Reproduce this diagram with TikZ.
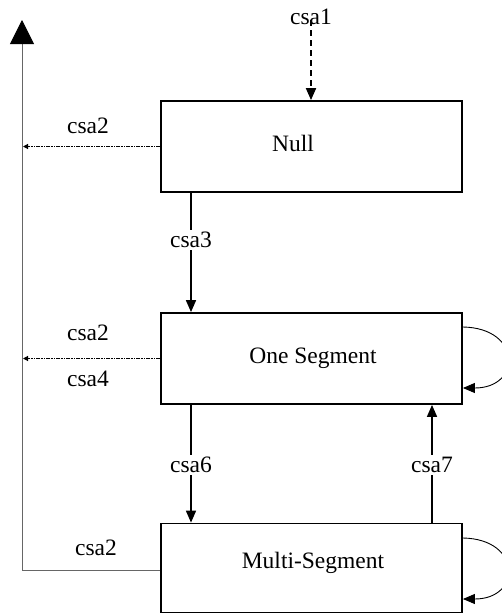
\documentclass[tikz,border=0pt]{standalone}
\usepackage{fontspec}
\setmainfont{Liberation Serif}
\usetikzlibrary{arrows.meta}
\begin{document}
\begin{tikzpicture}[x=1pt,y=-1pt,
  every node/.style={font=\fontsize{23.5}{28}\selectfont},
  statebox/.style={draw,line width=1.8pt,minimum width=301pt,inner sep=0pt,fill=none},
  tri/.style={-{Triangle[width=10pt,length=12pt]}},
  flow/.style={tri,line width=1.6pt},
  exitflow/.style={-{Triangle[width=5pt,length=5pt]},line width=1.1pt,
    dash pattern=on 4pt off 1pt on 1.5pt off 1pt on 1.5pt off 1pt},
  lbl/.style={inner sep=1pt},
  cut/.style={fill=white,inner sep=2pt}]
\useasboundingbox (0,0) rectangle (502,613);

% states
\node[statebox,minimum height=91pt] (null)  at (311.5,146.5) {};
\node[statebox,minimum height=91pt] (one)   at (311.5,358.5) {};
\node[statebox,minimum height=89pt] (multi) at (311.5,568) {};
\node (tnull)  at (293,143) {Null};
\node (tone)   at (313,358) {One Segment};
\node (tmulti) at (313,563) {Multi-Segment};

% guide coordinates
\coordinate (c1) at (311,20);
\coordinate (c3) at (191,0);
\coordinate (c7) at (432,0);
\coordinate (ex) at (23,0);
\coordinate (lb) at (22,570);
\coordinate (lt) at (22,20);

% creation
\draw[flow,line width=1.8pt,dash pattern=on 6pt off 4pt] (c1) -- (null.north -| c1);
\node[lbl] (l1) at (311,17) {csa1};

% return line on the left
\draw[gray!80!black,line width=1pt,-{Triangle[width=24pt,length=24pt,color=black]}]
  (lb -| multi.west) -- (lb) -- (lt);
\node[lbl] (l2c) at (96,548) {csa2};

% exits to the return line
\draw[exitflow] (null.west) -- (null.west -| ex);
\node[lbl] (l2a) at (88,126) {csa2};
\draw[exitflow] (one.west) -- (one.west -| ex);
\node[lbl] (l2b) at (88,333) {csa2};
\node[lbl] (l4)  at (88,379) {csa4};

% transitions between states
\draw[flow] (null.south -| c3) -- (one.north -| c3);
\node[cut] (l3) at (191,240) {csa3};
\draw[flow] (one.south -| c3) -- (multi.north -| c3);
\node[cut] (l6) at (191,465) {csa6};
\draw[flow] (multi.north -| c7) -- (one.south -| c7);
\node[cut] (l7) at (432,465) {csa7};

% self loops
\draw[tri,line width=0.9pt] ([yshift=31.5pt]one.east)
  .. controls (522,328) and (522,388) .. ([yshift=-29.5pt]one.east);
\draw[tri,line width=0.9pt] ([yshift=30pt]multi.east)
  .. controls (522,539) and (522,599) .. ([yshift=-31pt]multi.east);
\end{tikzpicture}
\end{document}
